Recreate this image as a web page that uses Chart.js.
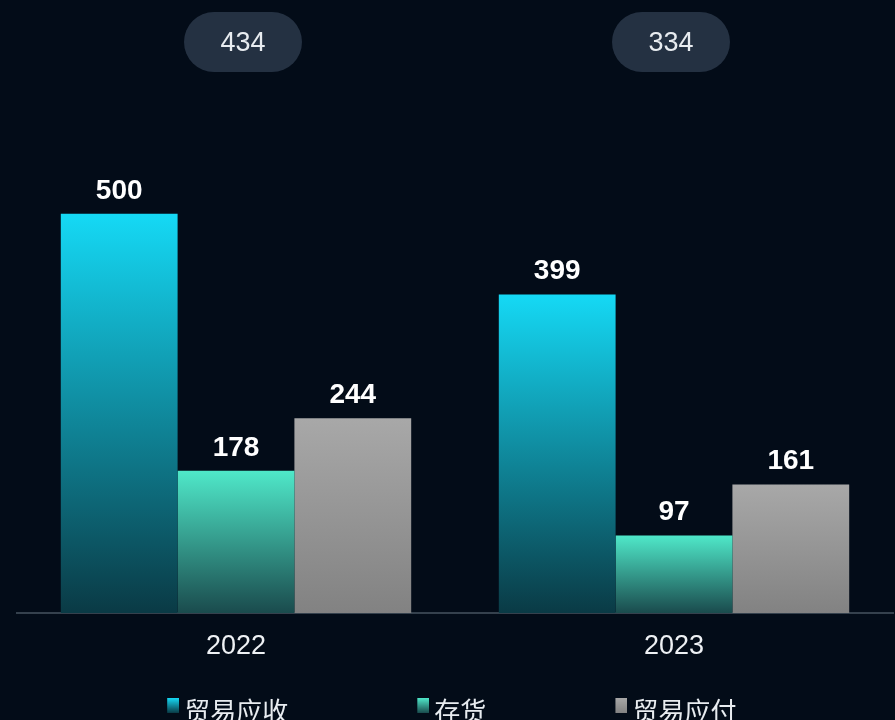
<!DOCTYPE html>
<html>
<head>
<meta charset="utf-8">
<script src="https://cdn.jsdelivr.net/npm/chart.js@4.4.1/dist/chart.umd.min.js"></script>
<style>
    html, body { margin: 0; padding: 0; background: #030c18; overflow: hidden; }
    #wrap { width: 895px; height: 737px; }
</style>
</head>
<body>
<div id="wrap"><canvas id="chart" width="895" height="737"></canvas></div>
<script>
const years = ['2022', '2023'];
const seriesNames = ['贸易应收', '存货', '贸易应付'];
const receivables = [500, 399];
const inventory = [178, 97];
const payables = [244, 161];
const netValues = [434, 334];

// top / bottom colour of each bar gradient
const gradCyan = ['#15d9f5', '#0a3a45'];
const gradTeal = ['#4fe8c9', '#1a4b4d'];
const gradGray = ['#a8a8a8', '#828282'];

Chart.defaults.font.family = "'Liberation Sans', 'Noto Sans CJK SC', sans-serif";

function barGradient(cols) {
    return (c) => {
        const chart = c.chart;
        const area = chart.chartArea;
        if (!area || c.raw == null) return cols[0];
        const y = chart.scales.y.getPixelForValue(c.raw);
        const g = chart.ctx.createLinearGradient(0, y, 0, area.bottom);
        g.addColorStop(0, cols[0]); g.addColorStop(1, cols[1]);
        return g;
    };
}

// small gradient square used as legend marker
function legendIcon(cols) {
    const cv = document.createElement('canvas');
    cv.width = 28; cv.height = 32;
    const c = cv.getContext('2d');
    const g = c.createLinearGradient(0, 0, 0, 15);
    g.addColorStop(0, cols[0]); g.addColorStop(1, cols[1]);
    c.fillStyle = g;
    c.fillRect(16, 0, 12, 15);
    return cv;
}
const icons = [legendIcon(gradCyan), legendIcon(gradTeal), legendIcon(gradGray)];
const pads = [' '.repeat(14), ' '.repeat(14), '  '];

const valueLabels = {
    id: 'valueLabels',
    afterDatasetsDraw(chart) {
        const ctx = chart.ctx;
        ctx.save();
        ctx.font = "bold 28px 'Liberation Sans', sans-serif";
        ctx.fillStyle = '#ffffff';
        ctx.textAlign = 'center';
        ctx.textBaseline = 'middle';
        chart.data.datasets.forEach((ds, i) => {
            chart.getDatasetMeta(i).data.forEach((bar, j) => {
                ctx.fillText(ds.data[j], bar.x, bar.y - 23);
            });
        });
        ctx.restore();
    }
};

const pillNudge = [7, -3];
const netPills = {
    id: 'netPills',
    afterDraw(chart) {
        const ctx = chart.ctx;
        const x = chart.scales.x;
        ctx.save();
        netValues.forEach((v, i) => {
            const cx = x.getPixelForValue(i) + pillNudge[i];
            ctx.fillStyle = '#243142';
            ctx.beginPath();
            ctx.roundRect(cx - 59, 12, 118, 60, 30);
            ctx.fill();
            ctx.fillStyle = '#e8ecf0';
            ctx.font = "27px 'Liberation Sans', sans-serif";
            ctx.textAlign = 'center';
            ctx.textBaseline = 'middle';
            ctx.fillText(v, cx, 44);
        });
        ctx.restore();
    }
};

new Chart(document.getElementById('chart'), {
    type: 'bar',
    data: {
        labels: years,
        datasets: [
            { label: seriesNames[0], data: receivables, backgroundColor: barGradient(gradCyan) },
            { label: seriesNames[1], data: inventory, backgroundColor: barGradient(gradTeal) },
            { label: seriesNames[2], data: payables, backgroundColor: barGradient(gradGray) }
        ]
    },
    options: {
        responsive: false,
        animation: false,
        layout: { padding: { top: 134, left: 17, right: 2, bottom: 0 } },
        datasets: { bar: { categoryPercentage: 0.8, barPercentage: 1.0, borderWidth: 0 } },
        plugins: {
            tooltip: { enabled: false },
            legend: {
                position: 'bottom',
                labels: {
                    usePointStyle: true,
                    boxWidth: 12,
                    padding: 20,
                    color: '#e8ecf0',
                    font: { size: 26 },
                    generateLabels: (chart) => chart.data.datasets.map((ds, i) => ({
                        text: ds.label + pads[i],
                        pointStyle: icons[i],
                        fontColor: '#e8ecf0',
                        datasetIndex: i,
                        hidden: false,
                        lineWidth: 0,
                        strokeStyle: 'transparent'
                    }))
                }
            }
        },
        scales: {
            x: {
                grid: { display: false, drawTicks: false },
                border: { color: '#35414d', width: 2 },
                ticks: { color: '#eef1f4', font: { size: 27, lineHeight: 2.3 }, padding: 3 }
            },
            y: { display: false, min: 0, max: 600 }
        }
    },
    plugins: [valueLabels, netPills]
});
</script>
</body>
</html>
